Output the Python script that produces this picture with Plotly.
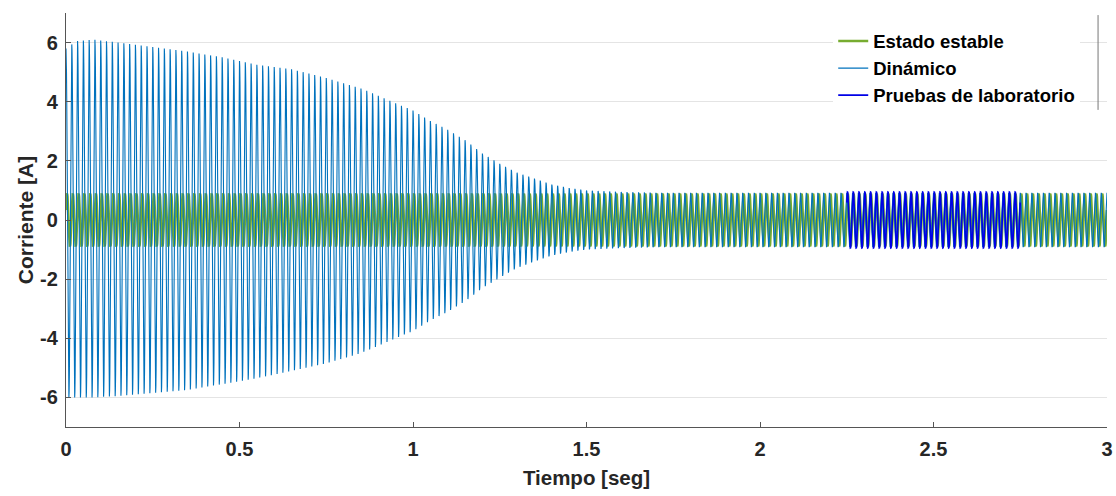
import numpy as np
import plotly.graph_objects as go

# ---- data ----
FREQ_HZ = 60.0                       # carrier frequency of the current waveforms
T_END = 3.0
SAMPLES_PER_CYCLE = 24

# Estado estable: constant amplitude
steady_amp = 0.87

# Dinámico: envelope (upper / lower peaks)
dyn_env_t = [0.00, 0.03, 0.08, 0.15, 0.25, 0.35, 0.45, 0.55, 0.65, 0.75, 0.85,
             0.95, 1.00, 1.05, 1.10, 1.15, 1.20, 1.25, 1.30, 1.35, 1.40, 1.45,
             1.50, 1.60, 1.70, 3.00]
dyn_env_up = [5.80, 6.05, 6.10, 6.00, 5.85, 5.70, 5.50, 5.25, 5.10, 4.80, 4.45,
              3.95, 3.70, 3.35, 3.05, 2.70, 2.25, 1.90, 1.60, 1.40, 1.20, 1.08,
              1.00, 0.95, 0.92, 0.92]
dyn_env_lo = [6.00, 6.00, 6.00, 5.95, 5.85, 5.75, 5.55, 5.35, 5.10, 4.85, 4.50,
              4.00, 3.75, 3.40, 3.10, 2.75, 2.30, 1.95, 1.62, 1.40, 1.20, 1.08,
              1.00, 0.95, 0.92, 0.92]

# Pruebas de laboratorio: measured window
lab_t_start = 2.25
lab_t_end = 2.75
lab_amp = 0.95

x_ticks = [0, 0.5, 1, 1.5, 2, 2.5, 3]
x_tick_labels = ["0", "0.5", "1", "1.5", "2", "2.5", "3"]
y_ticks = [-6, -4, -2, 0, 2, 4, 6]
y_tick_labels = ["-6", "-4", "-2", "0", "2", "4", "6"]

# ---- build the sampled waveforms ----
dt = 1.0 / (FREQ_HZ * SAMPLES_PER_CYCLE)
t = np.arange(0, T_END + dt / 2, dt)
w = 2 * np.pi * FREQ_HZ

y_steady = steady_amp * np.sin(w * t + 0.4)

carrier = np.cos(w * t)
env_up = np.interp(t, dyn_env_t, dyn_env_up)
env_lo = np.interp(t, dyn_env_t, dyn_env_lo)
y_dyn = np.where(carrier >= 0, env_up, env_lo) * carrier

mask = (t >= lab_t_start) & (t <= lab_t_end)
t_lab = t[mask]
y_lab = lab_amp * np.cos(w * t_lab - 0.9)

FONT = "Liberation Sans, Arial, Helvetica, sans-serif"

fig = go.Figure()
fig.add_trace(go.Scatter(x=t, y=y_steady, mode="lines", name="Estado estable",
                         line=dict(color="#77AC30", width=2.6)))
fig.add_trace(go.Scatter(x=t, y=y_dyn, mode="lines", name="Dinámico",
                         line=dict(color="#0072BD", width=1.1)))
fig.add_trace(go.Scatter(x=t_lab, y=y_lab, mode="lines", name="Pruebas de laboratorio",
                         line=dict(color="#0000E6", width=1.6)))

fig.update_layout(
    width=1116, height=496,
    margin=dict(l=66, r=9, t=13, b=69, autoexpand=False),
    paper_bgcolor="white", plot_bgcolor="white",
    font=dict(family=FONT, color="#262626"),
    showlegend=True,
    legend=dict(x=0.737, y=0.977, xanchor="left", yanchor="top",
                bgcolor="white", borderwidth=0,
                font=dict(family=FONT, size=18.5, color="#000000", weight="bold"),
                tracegroupgap=0, itemwidth=30),
)
fig.update_xaxes(range=[0, 3], tickvals=x_ticks, ticktext=x_tick_labels,
                 showgrid=False, zeroline=False, automargin=False,
                 showline=True, linecolor="#555555", linewidth=1.2,
                 ticks="inside", ticklen=5, tickcolor="#555555",
                 ticklabelstandoff=4,
                 tickfont=dict(family=FONT, size=20, color="#262626", weight="bold"),
                 title=dict(text="Tiempo [seg]", standoff=11,
                            font=dict(family=FONT, size=20.5, color="#262626", weight="bold")))
fig.update_yaxes(range=[-7, 7], tickvals=y_ticks, ticktext=y_tick_labels,
                 showgrid=True, gridcolor="#e4e4e4", gridwidth=1, zeroline=False,
                 automargin=False,
                 showline=True, linecolor="#555555", linewidth=1.2,
                 ticks="inside", ticklen=5, tickcolor="#555555",
                 ticklabelstandoff=3,
                 tickfont=dict(family=FONT, size=20, color="#262626", weight="bold"),
                 title=dict(text="Corriente [A]", standoff=0,
                            font=dict(family=FONT, size=21, color="#262626", weight="bold")))

# thin right edge of the legend box, as seen in the reference
fig.add_shape(type="line", xref="paper", yref="paper",
              x0=0.9914, x1=0.9914, y0=0.766, y1=0.995,
              line=dict(color="#777777", width=1))

fig.write_html("out.html",
               config={"displayModeBar": False},
               post_script="document.body.style.margin='0';"
                           "document.body.style.padding='0';"
                           "document.body.style.overflow='hidden';")
